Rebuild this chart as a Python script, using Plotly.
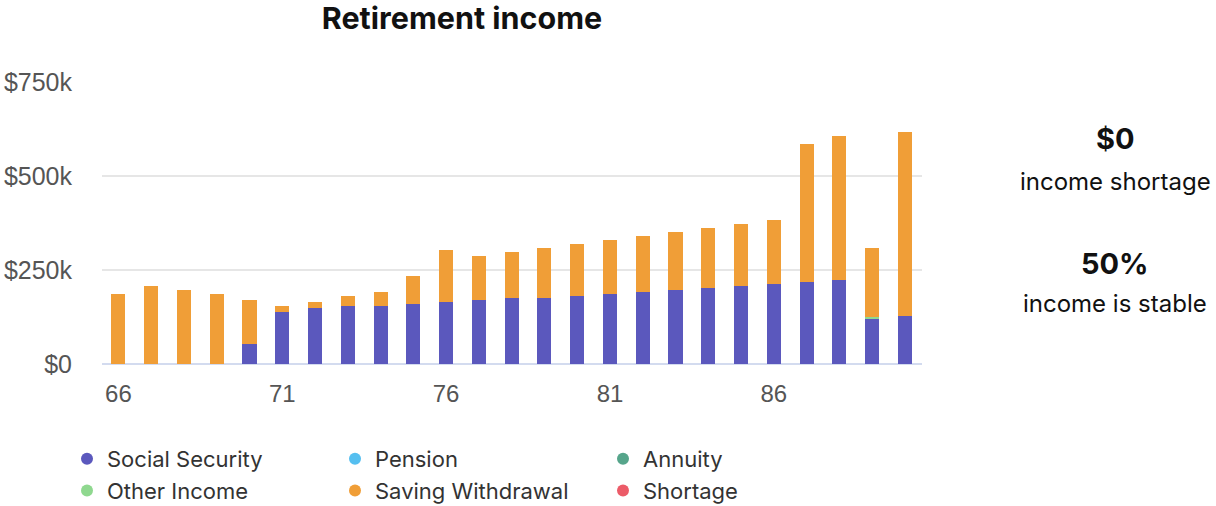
import plotly.graph_objects as go

ages = list(range(66, 91))
social_security = [0, 0, 0, 0, 53, 138, 149, 154, 154, 160, 165, 171, 176, 176, 181, 186, 191, 197, 202, 207, 213, 218, 223, 122, 128]
pension = [0] * 25
annuity = [0] * 25
other_income = [0] * 23 + [4, 0]
saving_withdrawal = [185, 207, 196, 185, 117, 15, 16, 26, 37, 73, 137, 115, 121, 132, 137, 143, 149, 153, 159, 165, 169, 366, 383, 182, 488]
shortage = [0] * 25

series = [
    ("Social Security", social_security, "#5b58bd", "legend"),
    ("Pension", pension, "#55bff0", "legend2"),
    ("Annuity", annuity, "#56a58b", "legend3"),
    ("Other Income", other_income, "#8fd88f", "legend"),
    ("Saving Withdrawal", saving_withdrawal, "#f09e37", "legend2"),
    ("Shortage", shortage, "#ec5b68", "legend3"),
]

y_tickvals = [0, 250000, 500000, 750000]
y_ticktext = ["$0", "$250k", "$500k", "$750k"]
x_tickvals = [66, 71, 76, 81, 86]

# body margin removed via post_script, so figure coordinates = screen coordinates
W, H = 1216, 506
ML, MT = 102, 82
MR, MB = 1216 - 922, 506 - 364

fig = go.Figure()
for name, vals, color, _ in series:
    fig.add_trace(go.Bar(
        x=ages, y=[v * 1000 for v in vals], name=name, marker_color=color,
        marker_line_width=0, width=0.43, showlegend=False, hoverinfo="skip",
    ))
for name, vals, color, lg in series:
    fig.add_trace(go.Scatter(
        x=[None], y=[None], mode="markers", name=name, legend=lg,
        marker=dict(color=color, size=12, symbol="circle"),
    ))

legend_common = dict(
    orientation="v", xref="container", yref="container", yanchor="top", xanchor="left",
    font=dict(family="Inter", size=22, color="#333333"), bgcolor="rgba(0,0,0,0)",
    tracegroupgap=0, itemsizing="constant", traceorder="normal",
)
ly = 1 - 438 / H
fig.update_layout(
    barmode="stack",
    width=W, height=H,
    margin=dict(l=ML, r=MR, t=MT, b=MB, autoexpand=False),
    plot_bgcolor="white", paper_bgcolor="white",
    title=dict(text="<b>Retirement income</b>", x=462 / W, xanchor="center", xref="container",
               y=1 - 18 / H, yanchor="middle", yref="container",
               font=dict(family="Inter", size=30.5, color="#111111")),
    xaxis=dict(range=[65.5, 90.52], tickvals=x_tickvals, showgrid=False, zeroline=False,
               tickfont=dict(family="Liberation Sans", size=24, color="#555555"),
               ticklabelstandoff=13, showline=False, tickangle=0),
    yaxis=dict(range=[0, 750000], tickvals=y_tickvals, ticktext=y_ticktext,
               showgrid=True, gridcolor="#e6e6e6", gridwidth=1.5,
               zeroline=True, zerolinecolor="#d3dbef", zerolinewidth=2,
               tickfont=dict(family="Liberation Sans", size=25, color="#555555"),
               ticklabelstandoff=29),
    legend=dict(x=67 / W, y=ly, **legend_common),
    legend2=dict(x=335 / W, y=ly, **legend_common),
    legend3=dict(x=603 / W, y=ly, **legend_common),
)

texts = [("<b>$0</b>", 138, 29), ("income shortage", 181, 24), ("<b>50%</b>", 263, 29), ("income is stable", 303, 24)]
anns = []
for t, ypx, fs in texts:
    anns.append(dict(
        text=t, showarrow=False, xref="paper", yref="paper",
        x=(1115 - ML) / (W - ML - MR), y=(H - MB - ypx) / (H - MT - MB),
        xanchor="center", yanchor="middle",
        font=dict(family="Inter", size=fs, color="#111111"),
    ))
fig.update_layout(annotations=anns)

fig.write_html("out.html", config={"displayModeBar": False},
               post_script="document.body.style.margin='0';document.body.style.overflow='hidden';")
